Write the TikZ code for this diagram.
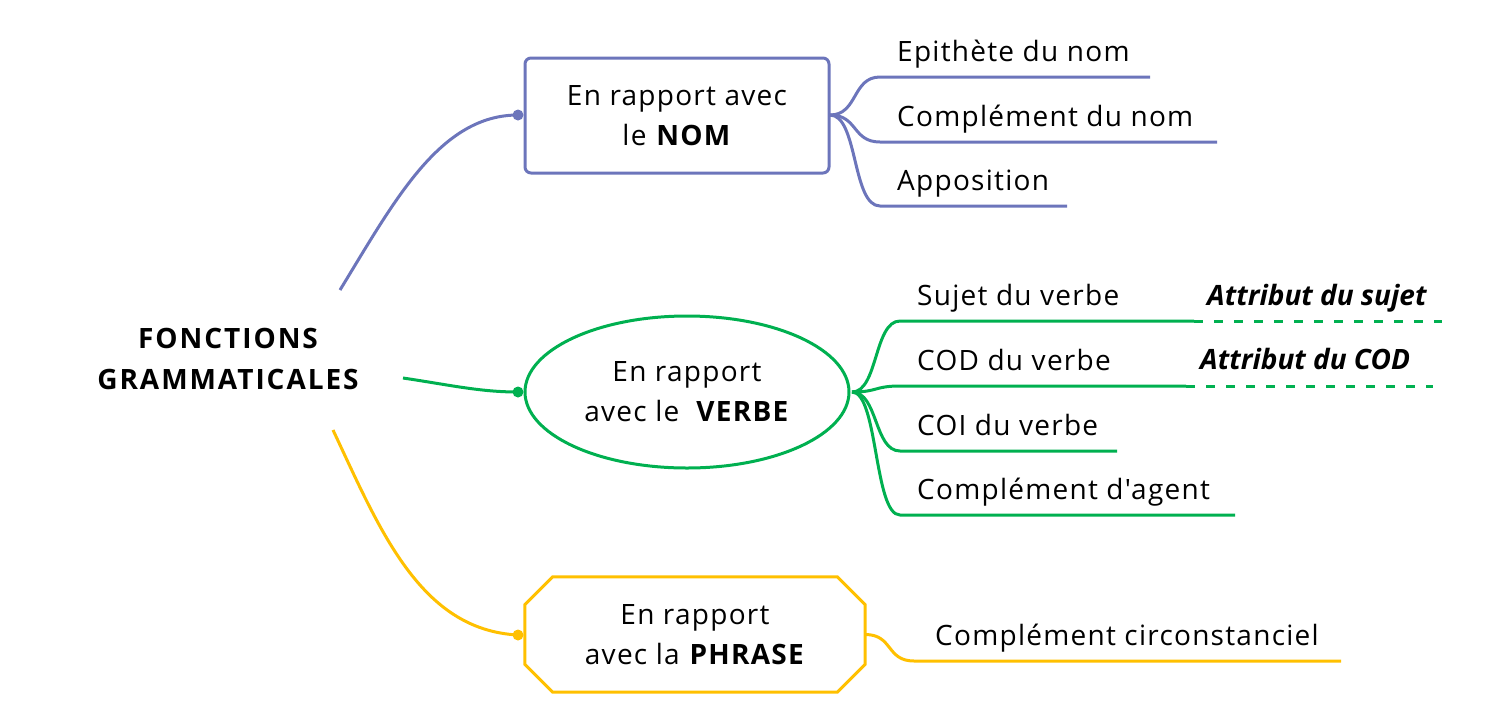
\documentclass[tikz,border=0pt]{standalone}
\usepackage{fontspec}
\setmainfont{Open Sans}[Ligatures=TeXOff]
\newfontfamily\spaced{Open Sans}[Ligatures=TeXOff,LetterSpace=4.5]
\newfontfamily\rootfont{Open Sans}[Ligatures=TeXOff,LetterSpace=7]
\usetikzlibrary{shapes.geometric}
\definecolor{nomblue}{RGB}{108,117,187}
\definecolor{vgreen}{RGB}{0,176,80}
\definecolor{pyellow}{RGB}{255,192,0}
\tikzset{
  txt/.style={font=\spaced\fontsize{28}{40}\selectfont, align=center, inner sep=0pt},
  lab/.style={anchor=base west, inner sep=0pt, font=\spaced\fontsize{28}{34}\selectfont},
  conn/.style={line width=3pt},
  dotmark/.style={circle, fill, inner sep=0pt, minimum size=11pt},
}
\begin{document}
\begin{tikzpicture}[x=1pt,y=-1pt]
\useasboundingbox (0,0) rectangle (1489,716);

% root
\node[txt, font=\rootfont\fontsize{28}{41}\selectfont\bfseries] (root) at (228,359) {FONCTIONS\\GRAMMATICALES};
\coordinate (rb) at (340,290);
\coordinate (rg) at (403,378);
\coordinate (ry) at (333,430);

% main nodes
\node[txt, draw=nomblue, line width=3pt, rounded corners=6pt, minimum width=304pt, minimum height=115pt] (nom) at (677,115.5) {En rapport avec\\le \textbf{NOM}};
\node[txt, draw=vgreen, line width=3pt, ellipse, minimum width=324pt, minimum height=152pt] (verbe) at (687,392) {En rapport\\avec le \ \textbf{VERBE}};
\node[txt, minimum width=340pt, minimum height=115pt] (phrase) at (695,634.5) {En rapport\\avec la \textbf{PHRASE}};
\draw[pyellow, line width=3pt]
  ([xshift=28pt]phrase.north west) -- ([xshift=-28pt]phrase.north east)
  -- ([yshift=-28pt]phrase.north east) -- ([yshift=28pt]phrase.south east)
  -- ([xshift=-28pt]phrase.south east) -- ([xshift=28pt]phrase.south west)
  -- ([yshift=28pt]phrase.south west) -- ([yshift=-28pt]phrase.north west) -- cycle;

% main connectors
\coordinate (nomdot) at (518,115);
\coordinate (verbedot) at (518,392);
\coordinate (phrasedot) at (518,635);
\draw[conn, nomblue] (rb) .. controls (395,200) and (440,115) .. (nomdot);
\draw[conn, vgreen] (rg) .. controls (450,385) and (480,392) .. (verbedot);
\draw[conn, pyellow] (ry) .. controls (380,530) and (420,630) .. (phrasedot);
\node[dotmark, nomblue] (nd) at (nomdot) {};
\node[dotmark, vgreen] (vd) at (verbedot) {};
\node[dotmark, pyellow] (pd) at (phrasedot) {};

% NOM branches
\coordinate (no) at (830,115);
\coordinate (n1s) at (880,77);  \coordinate (n1e) at (1150,77);
\coordinate (n2s) at (880,142); \coordinate (n2e) at (1217,142);
\coordinate (n3s) at (880,206); \coordinate (n3e) at (1067,206);
\foreach \i in {1,2,3}
  \draw[conn, nomblue] (no) .. controls +(28,0) and +(-28,0) .. (n\i s) -- (n\i e);
\node[lab] (l1) at (897,61) {Epithète du nom};
\node[lab] (l2) at (897,126) {Complément du nom};
\node[lab] (l3) at (897,190) {Apposition};

% VERBE branches
\coordinate (vo) at (852,392);
\coordinate (v1s) at (900,321); \coordinate (v1e) at (1194,321); \coordinate (v1d) at (1442,321);
\coordinate (v2s) at (900,386); \coordinate (v2e) at (1186,386); \coordinate (v2d) at (1433,386);
\coordinate (v3s) at (900,451); \coordinate (v3e) at (1117,451);
\coordinate (v4s) at (900,515); \coordinate (v4e) at (1235,515);
\foreach \i in {1,2,3,4}
  \draw[conn, vgreen] (vo) .. controls +(26,0) and +(-26,0) .. (v\i s) -- (v\i e);
\draw[conn, vgreen, dash pattern=on 9pt off 11pt] (v1e) -- (v1d);
\draw[conn, vgreen, dash pattern=on 9pt off 11pt] (v2e) -- (v2d);
\node[lab] (m1) at (917,305) {Sujet du verbe};
\node[lab] (m2) at (917,370) {COD du verbe};
\node[lab] (m3) at (917,435) {COI du verbe};
\node[lab] (m4) at (917,499) {Complément d'agent};
\node[lab, font=\fontsize{28}{34}\selectfont] (a1) at (1207,305) {\textbf{\textit{Attribut du sujet}}};
\node[lab, font=\fontsize{28}{34}\selectfont] (a2) at (1200,369) {\textbf{\textit{Attribut du COD}}};

% PHRASE branch
\coordinate (po) at (phrase.east);
\coordinate (p1s) at (914,661); \coordinate (p1e) at (1341,661);
\draw[conn, pyellow] (po) .. controls +(28,0) and +(-28,0) .. (p1s) -- (p1e);
\node[lab] (k1) at (935,645) {Complément circonstanciel};
\end{tikzpicture}
\end{document}
